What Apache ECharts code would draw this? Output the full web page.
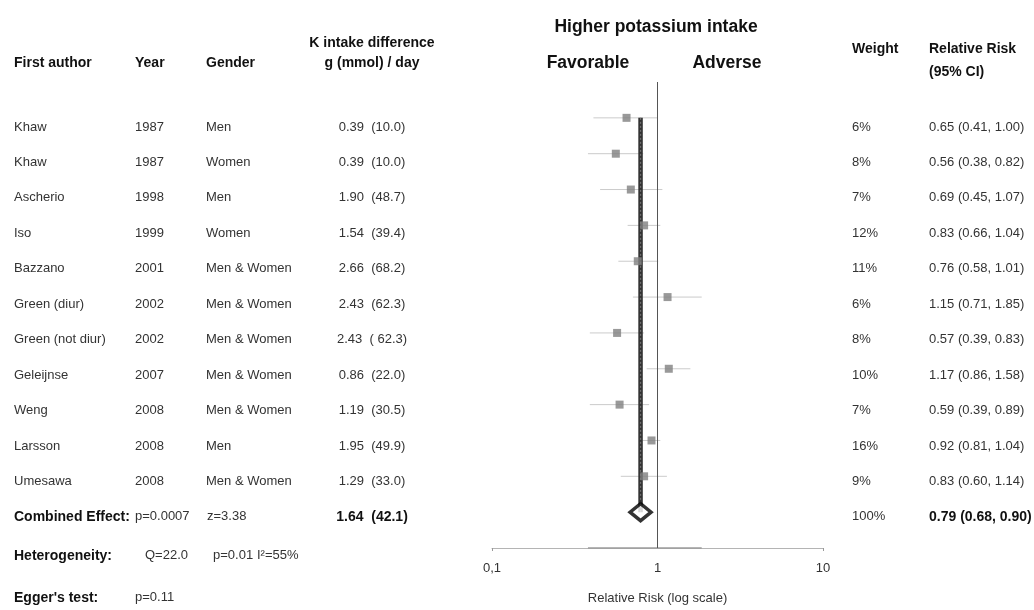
<!DOCTYPE html>
<html>
<head>
<meta charset="utf-8">
<script src="https://cdn.jsdelivr.net/npm/echarts@6/dist/echarts.min.js"></script>
<style>
html,body{margin:0;padding:0;background:#fff;}
#chart{width:1034px;height:610px;}
</style>
</head>
<body>
<div id="chart"></div>
<script>
// ---- data ----
const authors = ['Khaw','Khaw','Ascherio','Iso','Bazzano','Green (diur)','Green (not diur)','Geleijnse','Weng','Larsson','Umesawa'];
const years = ['1987','1987','1998','1999','2001','2002','2002','2007','2008','2008','2008'];
const genders = ['Men','Women','Men','Women','Men & Women','Men & Women','Men & Women','Men & Women','Men & Women','Men','Men & Women'];
const kIntakeG = ['0.39','0.39','1.90','1.54','2.66','2.43','2.43','0.86','1.19','1.95','1.29'];
const kIntakeMmol = ['(10.0)','(10.0)','(48.7)','(39.4)','(68.2)','(62.3)','( 62.3)','(22.0)','(30.5)','(49.9)','(33.0)'];
const weights = ['6%','8%','7%','12%','11%','6%','8%','10%','7%','16%','9%'];
const rr = [0.65,0.56,0.69,0.83,0.76,1.15,0.57,1.17,0.59,0.92,0.83];
const rrLow = [0.41,0.38,0.45,0.66,0.58,0.71,0.39,0.86,0.39,0.81,0.60];
const rrHigh = [1.00,0.82,1.07,1.04,1.01,1.85,0.83,1.58,0.89,1.04,1.14];
const pooledRR = 0.79, pooledLow = 0.68, pooledHigh = 0.90;
const pooledWeight = '100%';
const pooledIntake = '1.64  (42.1)';
const combinedStats = ['p=0.0007','z=3.38'];
const heteroStats = ['Q=22.0','p=0.01','I\u00B2=55%'];
const eggerStats = ['p=0.11'];
const xTickLabels = ['0,1','1','10'];

// ---- layout ----
const FONT = "'Liberation Sans', Arial, sans-serif";
const colX = {author:14, year:135, gender:206, intake:372, weight:852, rr:929, q:145, hp:213, i2:257};
const rowCombined = 11, rowHetero = 12.1, rowEgger = 13.28, rowAxis = 12;

const cells = [];
function cell(x, row, text, bold, align){ cells.push([x, row, text, bold ? 1 : 0, align || 'left']); }
for (let i = 0; i < authors.length; i++) {
  cell(colX.author, i, authors[i]);
  cell(colX.year, i, years[i]);
  cell(colX.gender, i, genders[i]);
  cell(colX.intake, i, kIntakeG[i] + '  ' + kIntakeMmol[i], false, 'center');
  cell(colX.weight, i, weights[i]);
  cell(colX.rr, i, rr[i].toFixed(2) + ' (' + rrLow[i].toFixed(2) + ', ' + rrHigh[i].toFixed(2) + ')');
}
cell(colX.author, rowCombined, 'Combined Effect:', true);
cell(colX.year, rowCombined, combinedStats[0]);
cell(colX.gender + 1, rowCombined, combinedStats[1]);
cell(colX.intake, rowCombined, pooledIntake, true, 'center');
cell(colX.weight, rowCombined, pooledWeight);
cell(colX.rr, rowCombined, pooledRR.toFixed(2) + ' (' + pooledLow.toFixed(2) + ', ' + pooledHigh.toFixed(2) + ')', true);
cell(colX.author, rowHetero, 'Heterogeneity:', true);
cell(colX.q, rowHetero, heteroStats[0]);
cell(colX.hp, rowHetero, heteroStats[1]);
cell(colX.i2, rowHetero, heteroStats[2]);
cell(colX.author, rowEgger, "Egger's test:", true);
cell(colX.year, rowEgger, eggerStats[0]);

const ciData = rr.map((v, i) => [i, rrLow[i], rrHigh[i]]);
const squareData = rr.map((v, i) => [v, i]);
const ciSpan = [[Math.min.apply(null, rrLow), rowAxis], [Math.max.apply(null, rrHigh), rowAxis]];

const chart = echarts.init(document.getElementById('chart'), null, {renderer:'canvas'});

function hdr(text, x, y, size, align){
  return {type:'text', x:x, y:y, style:{text:text, fill:'#111', fontFamily:FONT, fontWeight:'bold', fontSize:size, align:align||'left', verticalAlign:'middle'}};
}

chart.setOption({
  animation:false,
  backgroundColor:'#fff',
  grid:[
    {left:492, right:211, top:82, bottom:57},
    {left:0, right:0, top:91.5, bottom:4.5}
  ],
  xAxis:[
    {gridIndex:0, type:'log', logBase:10, min:0.1, max:10, position:'bottom',
     axisLine:{show:true, onZero:false, lineStyle:{color:'#b4b4b4', width:1}},
     axisTick:{show:true, length:3, customValues:[0.1, 10], lineStyle:{color:'#999'}},
     splitLine:{show:false}, minorTick:{show:false},
     axisLabel:{margin:14, color:'#333', fontSize:13, fontFamily:FONT,
       formatter:function(v){ return xTickLabels[Math.round(Math.log10(v)) + 1]; }},
     name:'Relative Risk (log scale)', nameLocation:'middle', nameGap:44,
     nameTextStyle:{color:'#333', fontSize:13, fontFamily:FONT}},
    {gridIndex:1, type:'value', min:0, max:1034, show:false}
  ],
  yAxis:[
    {gridIndex:0, type:'value', min:-1, max:12, inverse:true, show:false},
    {gridIndex:1, type:'value', min:-1, max:13.5, inverse:true, show:false}
  ],
  series:[
    {type:'custom', xAxisIndex:0, yAxisIndex:0, data:ciData, encode:{x:[1,2], y:0}, z:1,
     renderItem:function(params, api){
       const y = api.value(0);
       const a = api.coord([api.value(1), y]);
       const b = api.coord([api.value(2), y]);
       return {type:'line', shape:{x1:a[0], y1:a[1], x2:b[0], y2:b[1]}, style:{stroke:'#cbcbcb', lineWidth:1}};
     }},
    {type:'line', xAxisIndex:0, yAxisIndex:0, data:ciSpan, showSymbol:false, symbol:'none', z:2,
     lineStyle:{color:'#6a6a6a', width:1}},
    {type:'line', xAxisIndex:0, yAxisIndex:0, data:[[1,-1],[1,rowAxis]], showSymbol:false, symbol:'none', z:2,
     lineStyle:{color:'#555', width:1}},
    {type:'line', xAxisIndex:0, yAxisIndex:0, data:[[pooledRR,0],[pooledRR,rowCombined]], showSymbol:false, symbol:'none', z:3,
     lineStyle:{color:'#333', width:4.5}},
    {type:'line', xAxisIndex:0, yAxisIndex:0, data:[[pooledRR,0],[pooledRR,rowCombined]], showSymbol:false, symbol:'none', z:3,
     lineStyle:{color:'#6e6e6e', width:1.2, type:[2,2]}},
    {type:'scatter', xAxisIndex:0, yAxisIndex:0, data:squareData, symbol:'rect', symbolSize:8, z:4,
     itemStyle:{color:'#808080'}},
    {type:'scatter', xAxisIndex:0, yAxisIndex:0, data:[[pooledRR, rowCombined]], symbol:'diamond', symbolSize:[21,17], z:5,
     itemStyle:{color:'#fff', borderColor:'#000', borderWidth:3.5}},
    {type:'custom', xAxisIndex:1, yAxisIndex:1, data:cells, encode:{x:0, y:1}, z:6,
     renderItem:function(params, api){
       const d = cells[params.dataIndex];
       const p = api.coord([d[0], d[1]]);
       return {type:'text', x:p[0], y:p[1], style:{text:d[2], fill:d[3] ? '#111' : '#333', fontFamily:FONT,
         fontWeight:d[3] ? 'bold' : 'normal', fontSize:d[3] ? 14 : 13, align:d[4], verticalAlign:'middle'}};
     }}
  ],
  graphic:[
    hdr('Higher potassium intake', 656, 27, 17.5, 'center'),
    hdr('Favorable', 588, 63, 17.5, 'center'),
    hdr('Adverse', 727, 63, 17.5, 'center'),
    hdr('First author', 14, 63, 14),
    hdr('Year', 135, 63, 14),
    hdr('Gender', 206, 63, 14),
    hdr('K intake difference', 372, 43, 14, 'center'),
    hdr('g (mmol) / day', 372, 63, 14, 'center'),
    hdr('Weight', 852, 49, 14),
    hdr('Relative Risk', 929, 49, 14),
    hdr('(95% CI)', 929, 72, 14)
  ]
});
</script>
</body>
</html>
